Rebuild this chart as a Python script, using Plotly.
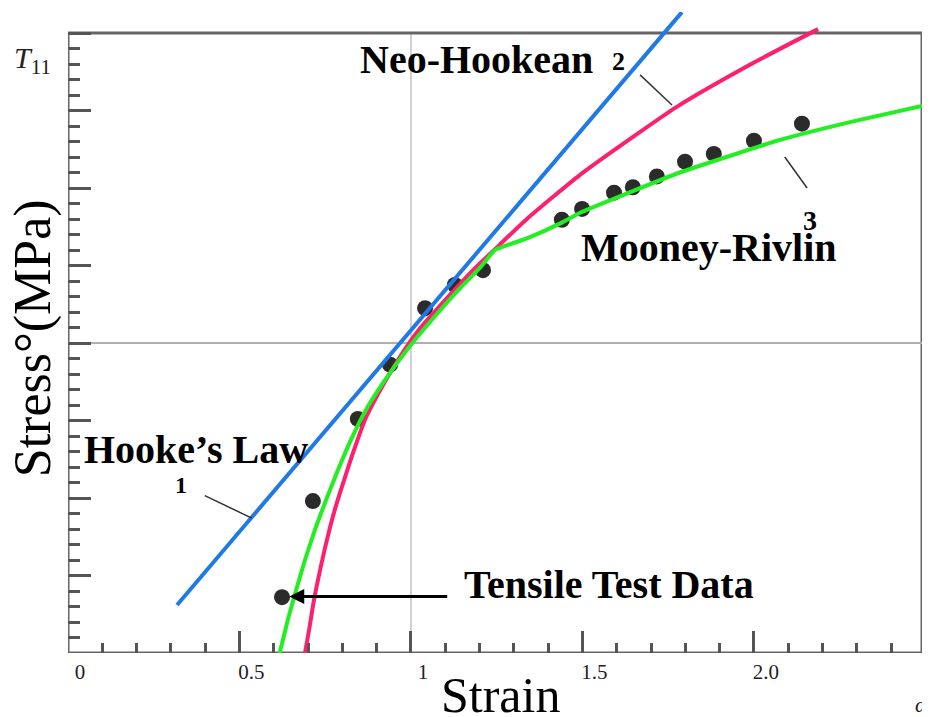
import numpy as np
import plotly.graph_objects as go

# ---------------- data ----------------
strain_tick_vals = [0, 0.5, 1, 1.5, 2.0]
strain_tick_text = ["0", "0.5", "1", "1.5", "2.0"]

# tensile test data points
test_strain = [0.624, 0.714, 0.845, 0.939, 1.041, 1.128, 1.210, 1.440, 1.499,
               1.592, 1.647, 1.717, 1.799, 1.883, 2.000, 2.140]
test_stress = [-3.28, -2.04, -0.98, -0.28, 0.45, 0.75, 0.94, 1.59, 1.73,
               1.94, 2.01, 2.15, 2.34, 2.44, 2.61, 2.83]

# Hooke's law (1)
hooke_strain = [0.318, 1.790]
hooke_stress = [-3.38, 4.27]

# Neo-Hookean (2)
neo_strain = [0.685, 0.703, 0.717, 0.735, 0.755, 0.778, 0.805, 0.834, 0.866,
              0.910, 0.962, 1.023, 1.099, 1.181, 1.259, 1.338, 1.493, 1.638,
              1.776, 1.988, 2.187]
neo_stress = [-4.15, -3.70, -3.32, -2.93, -2.54, -2.15, -1.77, -1.38, -0.99,
              -0.61, -0.22, 0.17, 0.55, 0.94, 1.27, 1.60, 2.17, 2.63,
              3.05, 3.59, 4.05]

# Mooney-Rivlin (3)
mr_strain = [0.609, 0.641, 0.665, 0.691, 0.720, 0.752, 0.787, 0.825, 0.869,
             0.924, 0.988, 1.061, 1.137, 1.201, 1.245, 1.338, 1.443, 1.493,
             1.784, 2.076, 2.280, 2.490]
mr_stress = [-4.15, -3.57, -3.19, -2.80, -2.41, -2.03, -1.64, -1.25, -0.86,
             -0.48, -0.09, 0.30, 0.68, 0.97, 1.20, 1.35, 1.56, 1.68,
             2.20, 2.62, 2.85, 3.06]

X_MAX = 2.49
Y_MIN, Y_MAX = -4, 4
Y_TOP = 4.271         # head-room so lines may run past the frame top
REF_X = 1.0

SERIF = "Liberation Serif"

fig = go.Figure()

fig.add_trace(go.Scatter(x=test_strain, y=test_stress, mode="markers",
                         marker=dict(size=16, color="#2b2b2b"),
                         name="Tensile Test Data", showlegend=False))
fig.add_trace(go.Scatter(x=neo_strain, y=neo_stress, mode="lines",
                         line=dict(color="#ff1f6f", width=4, shape="spline", smoothing=0.6),
                         name="Neo-Hookean", showlegend=False))
fig.add_trace(go.Scatter(x=mr_strain, y=mr_stress, mode="lines",
                         line=dict(color="#22ee22", width=4, shape="spline", smoothing=0.4),
                         name="Mooney-Rivlin", showlegend=False))
fig.add_trace(go.Scatter(x=hooke_strain, y=hooke_stress, mode="lines",
                         line=dict(color="#1f7ae6", width=4),
                         name="Hooke's Law", showlegend=False))

tick_col = "#555555"
fig.update_xaxes(
    range=[0, X_MAX], showgrid=False, zeroline=False, showline=False,
    ticks="inside", tickvals=strain_tick_vals, ticktext=strain_tick_text,
    ticklen=22, tickwidth=2.5, tickcolor=tick_col,
    minor=dict(tickvals=list(np.round(np.arange(0, X_MAX, 0.1), 2)),
               ticks="inside", ticklen=10, tickwidth=2.5, tickcolor=tick_col),
    tickfont=dict(family=SERIF, size=21, color="#222222"),
    ticklabelshift=12, ticklabelstandoff=4,
)
fig.update_yaxes(
    range=[Y_MIN, Y_TOP], showgrid=False, showline=False,
    zeroline=True, zerolinecolor="#b0b0b0", zerolinewidth=1.5,
    ticks="inside", tickvals=list(range(Y_MIN, Y_MAX + 1)), showticklabels=False,
    ticklen=23, tickwidth=2.5, tickcolor=tick_col,
    minor=dict(tickvals=list(np.round(np.arange(Y_MIN, Y_MAX + 0.01, 0.2), 2)),
               ticks="inside", ticklen=12, tickwidth=2.5, tickcolor=tick_col),
)

shapes = [
    dict(type="line", xref="x", yref="y", x0=REF_X, x1=REF_X, y0=Y_MIN, y1=Y_MAX,
         line=dict(color="#c0c0c0", width=1.5), layer="below"),
    dict(type="rect", xref="x", yref="y", x0=0, x1=X_MAX, y0=Y_MIN, y1=Y_MAX,
         line=dict(color="#666666", width=3), layer="below"),
    # leader lines
    dict(type="line", xref="x", yref="y", x0=1.668, y0=3.46, x1=1.761, y1=3.07,
         line=dict(color="#333333", width=1.5)),
    dict(type="line", xref="x", yref="y", x0=2.090, y0=2.40, x1=2.155, y1=2.00,
         line=dict(color="#333333", width=1.5)),
    dict(type="line", xref="x", yref="y", x0=0.399, y0=-1.97, x1=0.536, y1=-2.26,
         line=dict(color="#333333", width=1.5)),
]

bold = dict(family=SERIF, size=40, color="black")
C = dict(xanchor="center", yanchor="middle", showarrow=False)
annotations = [
    dict(x=1.192, y=3.66, xref="x", yref="y", text="<b>Neo-Hookean</b>", font=bold, **C),
    dict(x=1.606, y=3.63, xref="x", yref="y", text="<b>2</b>",
         font=dict(family=SERIF, size=26, color="black"), **C),
    dict(x=1.869, y=1.23, xref="x", yref="y", text="<b>Mooney-Rivlin</b>", font=bold, **C),
    dict(x=2.163, y=1.58, xref="x", yref="y", text="<b>3</b>",
         font=dict(family=SERIF, size=28, color="black"), **C),
    dict(x=0.373, y=-1.38, xref="x", yref="y", text="<b>Hooke’s Law</b>", font=bold, **C),
    dict(x=0.329, y=-1.83, xref="x", yref="y", text="<b>1</b>",
         font=dict(family=SERIF, size=24, color="black"), **C),
    dict(x=1.577, y=-3.11, xref="x", yref="y", text="<b>Tensile Test Data</b>", font=bold, **C),
    # arrow to test point
    dict(x=0.645, y=-3.27, xref="x", yref="y", ax=1.11, ay=-3.27, axref="x", ayref="y",
         text="", showarrow=True, arrowhead=2, arrowsize=1, arrowwidth=3,
         arrowcolor="black"),
    # axis titles
    dict(x=-0.041, y=0.491, xref="paper", yref="paper", text="Stress°(MPa)",
         textangle=-90, font=dict(family=SERIF, size=52, color="black"), **C),
    dict(x=0.506, y=-0.0655, xref="paper", yref="paper", text="Strain",
         font=dict(family=SERIF, size=50, color="black"), **C),
    dict(x=0.999, y=-0.080, xref="paper", yref="paper", text="<i>α</i>",
         font=dict(family=SERIF, size=22, color="#222222"), **C),
    dict(x=-0.041, y=0.925, xref="paper", yref="paper", text="<i>T</i><sub>11</sub>",
         font=dict(family=SERIF, size=30, color="#222222"), **C),
]

# the page body adds an 8px offset; the figure is sized/margined to compensate
fig.update_layout(
    width=922, height=709,
    margin=dict(l=60, r=8, t=4, b=64),
    plot_bgcolor="white", paper_bgcolor="white",
    shapes=shapes, annotations=annotations, showlegend=False,
)

fig.write_html("out.html")
